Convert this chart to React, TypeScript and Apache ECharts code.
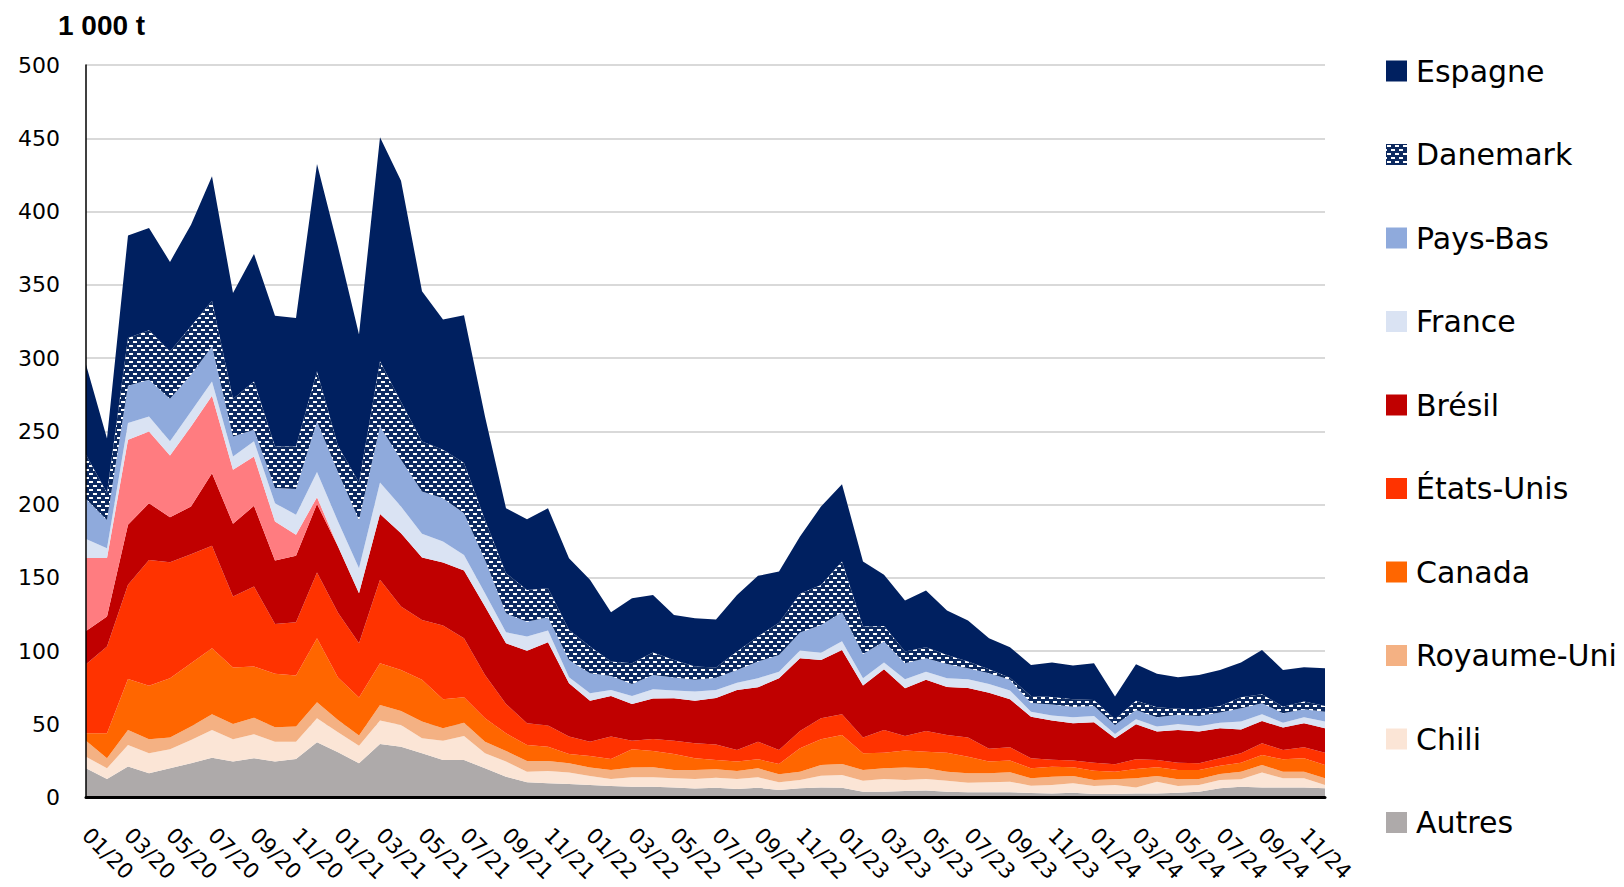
import React, { useEffect, useRef } from 'react';
import * as echarts from 'echarts';

const months = [
  '01/20','02/20','03/20','04/20','05/20','06/20','07/20','08/20','09/20','10/20','11/20','12/20',
  '01/21','02/21','03/21','04/21','05/21','06/21','07/21','08/21','09/21','10/21','11/21','12/21',
  '01/22','02/22','03/22','04/22','05/22','06/22','07/22','08/22','09/22','10/22','11/22','12/22',
  '01/23','02/23','03/23','04/23','05/23','06/23','07/23','08/23','09/23','10/23','11/23','12/23',
  '01/24','02/24','03/24','04/24','05/24','06/24','07/24','08/24','09/24','10/24','11/24','12/24'
];

const autres = [19.9,12.6,21.1,16.5,19.9,23.3,27.2,24.5,26.8,24.5, 26.3,37.7,30.9,23.3,36.5,34.7,30.2,25.6,25.6,19.9, 14.2,10.4,9.7,9.2,8.5,7.9,7.4,7.4,6.9,6.1, 6.6,5.8,6.7,5.1,6.3,6.9,6.7,4.0,4.0,4.4, 4.7,4.0,3.5,3.5,3.5,3.1,2.8,3.3,2.4,2.4, 2.8,2.8,3.3,4.0,6.3,7.4,6.9,6.9,6.9,6.3];
const chili = [8.0,7.3,14.8,13.7,13.0,16.0,18.9,15.3,16.3,13.6, 11.8,16.4,13.6,12.1,16.0,14.8,10.2,13.2,16.4,10.3, 10.3,7.2,8.4,7.8,6.2,4.7,6.4,6.4,6.2,6.5, 6.9,6.8,7.1,5.3,5.7,8.0,8.7,7.5,8.6,7.6, 7.9,7.5,6.6,6.9,7.3,4.9,5.8,6.4,5.5,6.1, 4.1,8.0,4.6,4.5,5.7,5.0,10.1,6.2,6.2,2.2];
const royaumeUni = [10.9,6.9,10.2,9.6,8.0,9.1,10.7,10.4,11.4,9.8, 10.3,10.9,8.4,6.9,10.7,9.6,11.4,8.4,9.1,7.9, 7.3,7.3,6.8,6.3,5.7,6.2,6.6,6.8,5.7,6.2, 5.7,5.5,6.1,5.4,5.6,7.3,7.5,7.3,7.3,8.4, 7.3,6.1,6.4,6.1,6.4,5.1,5.6,5.0,4.1,3.9, 6.2,3.9,4.5,4.1,4.1,5.2,5.2,4.5,4.5,4.6];
const canada = [5.0,17.0,34.8,36.4,40.5,43.2,45.1,38.5,34.9,36.5, 34.8,43.7,29.0,25.9,28.4,28.0,28.5,19.9,17.3,16.0, 12.0,11.0,9.8,6.4,7.9,7.5,12.5,11.2,10.9,8.0, 6.4,6.4,6.2,7.1,16.0,17.5,19.8,11.4,10.7,11.6, 11.4,13.0,11.4,8.0,8.0,6.8,6.8,5.9,6.3,5.2, 6.4,5.9,6.4,6.2,5.6,6.2,6.8,8.5,9.2,9.1];
const etatsUnis = [47.2,59.2,64.3,86.0,79.2,74.5,69.9,48.5,54.6,34.1, 36.5,44.8,44.2,37.1,57.0,43.3,40.9,50.3,40.3,29.6, 20.1,14.8,14.4,11.9,9.8,15.3,5.9,8.2,9.1,10.2, 10.6,7.9,12.0,9.5,11.8,14.4,14.1,10.7,15.5,10.0, 14.1,12.1,13.0,8.7,9.1,6.9,4.8,4.6,5.5,5.1, 6.6,5.0,5.0,4.5,5.1,6.4,8.0,6.4,7.5,8.4];
const bresil = [22.7,20.5,40.9,38.7,30.7,32.5,49.6,49.6,55.1,43.3, 45.3,46.9,45.2,34.1,45.0,50.0,42.6,43.0,46.2,46.7, 41.4,49.4,56.9,36.4,28.0,27.7,25.1,27.5,28.9,29.1, 31.8,41.0,37.1,49.0,49.6,39.7,43.9,35.5,41.4,32.6, 34.9,32.7,33.8,38.3,32.7,28.4,26.7,25.5,27.5,17.7, 23.9,19.4,22.3,21.7,20.4,16.3,15.2,15.2,16.4,16.6];
const nonLegende = [49.7,39.9,58.1,49.0,42.2,54.7,52.9,36.9,33.7,26.6, 14.3,4.6,0,0,0,0,0,0,0,0, 0,0,0,0,0,0,0,0,0,0, 0,0,0,0,0,0,0,0,0,0, 0,0,0,0,0,0,0,0,0,0, 0,0,0,0,0,0,0,0,0,0];
const france = [13.0,6.8,11.4,10.2,9.6,10.2,9.7,9.1,10.3,12.5, 13.7,17.1,17.1,17.1,21.4,18.2,16.2,14.4,10.7,9.0, 7.5,9.8,8.0,4.0,5.1,4.1,5.4,6.4,5.3,6.2, 5.4,5.0,6.2,4.5,5.3,5.0,5.9,5.0,4.6,6.1, 5.6,6.0,6.0,6.0,6.0,3.4,3.5,4.1,4.4,3.0, 3.4,3.4,4.1,3.8,3.9,5.3,4.6,3.4,4.1,4.6];
const paysBas = [27.3,19.3,25.5,25.1,29.1,25.1,23.9,13.6,7.9,10.3, 17.5,34.6,33.6,33.0,38.3,31.9,28.9,29.5,28.4,22.8, 12.9,10.1,9.0,11.9,13.6,9.6,8.2,9.8,8.9,8.0, 8.4,8.7,11.4,11.4,12.3,18.9,19.8,16.6,14.3,10.9, 9.1,9.8,7.5,7.3,7.3,5.9,7.5,7.2,6.8,6.1, 6.4,6.4,6.2,6.9,6.9,9.1,7.5,6.4,5.4,6.8];
const danemark = [30.3,18.3,32.5,33.7,32.3,33.0,31.1,25.6,33.0,28.4, 29.1,34.2,18.0,25.5,44.4,39.5,34.1,33.0,34.3,27.3, 27.4,21.7,19.9,20.5,18.2,9.8,14.2,15.2,12.0,9.1, 7.0,12.5,17.1,22.0,26.4,27.4,34.7,18.7,10.7,8.0, 7.6,6.1,4.6,2.7,1.5,4.8,5.1,5.1,4.1,3.9, 6.3,6.8,4.1,4.5,4.5,7.5,6.2,4.5,5.3,3.9];
const espagne = [61.6,37.2,70.1,69.9,61.1,69.4,85.0,72.4,87.0,89.3, 87.7,141.6,136.0,101.0,153.0,151.0,102.5,88.9,100.8,70.5, 44.4,48.3,54.6,48.9,45.6,33.7,44.3,39.4,30.7,33.0, 32.7,38.7,41.4,34.9,39.2,53.5,52.8,44.4,34.9,34.9, 38.7,30.3,28.0,21.2,20.8,21.2,23.6,23.0,25.0,15.5, 24.9,22.8,21.6,23.5,24.6,23.7,30.2,25.1,23.4,25.7];

const legendOrder = ['Espagne','Danemark','Pays-Bas','France','Brésil','États-Unis','Canada','Royaume-Uni','Chili','Autres'];

export default function App() {
  const ref = useRef<HTMLDivElement>(null);
  useEffect(() => {
    document.body.style.margin = '0';
    document.body.style.overflow = 'hidden';
    const chart = echarts.init(ref.current!, null, { renderer: 'svg' });

    const canvas = document.createElement('canvas');
    canvas.width = 8; canvas.height = 8;
    const ctx = canvas.getContext('2d')!;
    ctx.fillStyle = '#0d2a60';
    ctx.fillRect(0, 0, 8, 8);
    ctx.fillStyle = '#ffffff';
    ctx.fillRect(1, 1, 4, 2);
    ctx.fillRect(5, 5, 3, 2);
    ctx.fillRect(0, 5, 1, 2);
    const pattern: any = { image: canvas, repeat: 'repeat', imageWidth: 8, imageHeight: 8 };

    const colors: Record<string, any> = {
      'Espagne': '#002060',
      'Danemark': pattern,
      'Pays-Bas': '#8faadc',
      'France': '#dae3f3',
      'Brésil': '#c00000',
      'États-Unis': '#ff3300',
      'Canada': '#ff6600',
      'Royaume-Uni': '#f4b183',
      'Chili': '#fbe5d6',
      'Autres': '#aeaaaa'
    };

    const mk = (name: string | undefined, data: number[], color: any) => ({
      name,
      type: 'line',
      stack: 'total',
      data,
      symbol: 'none',
      showSymbol: false,
      lineStyle: { width: 0 },
      areaStyle: { color, opacity: 1 },
      itemStyle: { color },
      emphasis: { disabled: true },
      silent: true,
      z: 2
    });

    const series = [
      mk('Autres', autres, colors['Autres']),
      mk('Chili', chili, colors['Chili']),
      mk('Royaume-Uni', royaumeUni, colors['Royaume-Uni']),
      mk('Canada', canada, colors['Canada']),
      mk('États-Unis', etatsUnis, colors['États-Unis']),
      mk('Brésil', bresil, colors['Brésil']),
      mk(undefined, nonLegende, '#ff7c80'),
      mk('France', france, colors['France']),
      mk('Pays-Bas', paysBas, colors['Pays-Bas']),
      mk('Danemark', danemark, colors['Danemark']),
      mk('Espagne', espagne, colors['Espagne'])
    ];

    chart.setOption({
      animation: false,
      title: {
        text: '1 000 t',
        left: 53,
        top: 6,
        textStyle: { fontSize: 28, fontWeight: 'bold', fontFamily: 'Liberation Sans', color: '#000' }
      },
      grid: { left: 86, right: 299, top: 65, bottom: 89.5, containLabel: false },
      legend: {
        orient: 'vertical',
        left: 1381,
        top: 51,
        itemWidth: 21,
        itemHeight: 21,
        itemGap: 53.5,
        icon: 'rect',
        selectedMode: false,
        textStyle: { fontSize: 30, fontFamily: 'DejaVu Sans', color: '#000', lineHeight: 30, padding: [0, 0, 0, 4] },
        data: legendOrder.map((n) => ({ name: n, itemStyle: { color: colors[n], borderWidth: 0 } }))
      },
      xAxis: {
        type: 'category',
        boundaryGap: false,
        data: months,
        z: 10,
        axisLine: { lineStyle: { color: '#000', width: 3 } },
        axisTick: { show: false },
        splitLine: { show: false },
        axisLabel: { interval: 1, rotate: -45, fontSize: 21.5, fontFamily: 'DejaVu Sans', color: '#000', margin: 34 }
      },
      yAxis: [
        {
          type: 'value',
          min: 0,
          max: 500,
          interval: 50,
          z: 0,
          axisLine: { show: false },
          axisTick: { show: false },
          splitLine: { lineStyle: { color: '#d9d9d9', width: 2 } },
          axisLabel: { fontSize: 22, fontFamily: 'DejaVu Sans', color: '#000', margin: 26 }
        },
        {
          type: 'value',
          min: 0,
          max: 500,
          interval: 50,
          position: 'left',
          z: 10,
          axisLine: { show: true, lineStyle: { color: '#000', width: 1.5 } },
          axisTick: { show: false },
          splitLine: { show: false },
          axisLabel: { show: false }
        }
      ],
      series
    });
    return () => chart.dispose();
  }, []);
  return <div ref={ref} style={{ width: 1624, height: 887 }} />;
}
